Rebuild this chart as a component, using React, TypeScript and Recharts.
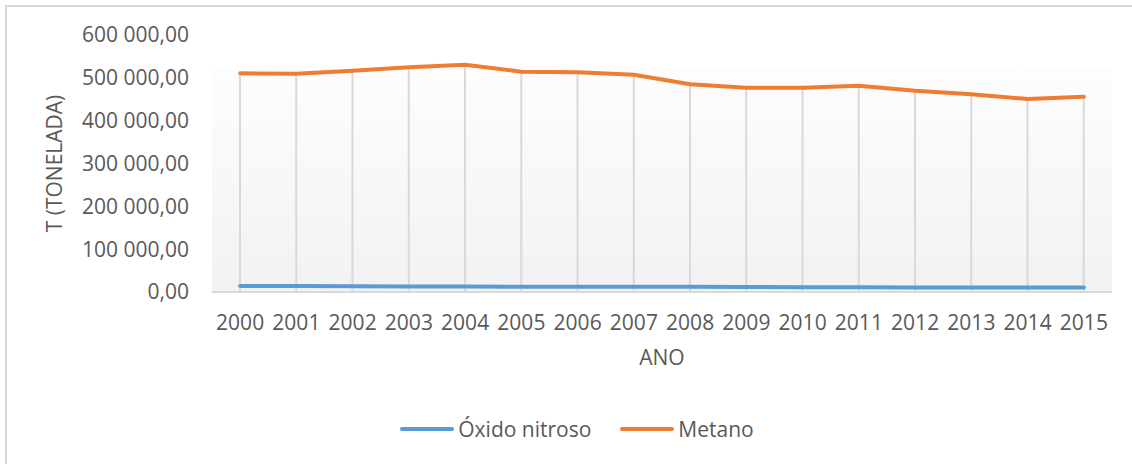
import {
  ComposedChart,
  Line,
  Bar,
  XAxis,
  YAxis,
  CartesianGrid,
  Legend,
} from "recharts";

const years = [
  "2000", "2001", "2002", "2003", "2004", "2005", "2006", "2007",
  "2008", "2009", "2010", "2011", "2012", "2013", "2014", "2015",
];

const metano = [
  510500, 509600, 516600, 524500, 530600, 514300, 512900, 507200,
  484800, 476900, 476900, 481500, 469800, 461400, 450400, 455800,
];

const oxidoNitroso = [
  14000, 13800, 13600, 12800, 12600, 12500, 12400, 12300,
  12200, 11500, 11300, 10800, 10700, 10600, 10400, 10300,
];

const yTicks = [0, 100000, 200000, 300000, 400000, 500000, 600000];

const seriesInfo = [
  { key: "oxido", name: "Óxido nitroso", color: "#5B9BD5" },
  { key: "metano", name: "Metano", color: "#ED7D31" },
];

const data = years.map((year, i) => ({
  year,
  metano: metano[i],
  oxido: oxidoNitroso[i],
}));

const FONT = "'Open Sans', sans-serif";
const TEXT = "#595959";

// 600000 -> "600 000,00"
function formatTon(v: number) {
  const int = Math.round(v)
    .toString()
    .replace(/\B(?=(\d{3})+(?!\d))/g, "\u00a0");
  return `${int},00`;
}

function YTitle({ viewBox }: { viewBox?: { x: number; y: number; height: number } }) {
  if (!viewBox) return null;
  const cx = viewBox.x + 62;
  const cy = viewBox.y + viewBox.height / 2;
  return (
    <text
      x={cx}
      y={cy}
      transform={`rotate(-90, ${cx}, ${cy})`}
      textAnchor="middle"
      fill={TEXT}
      fontSize={21}
      fontFamily={FONT}
    >
      T (TONELADA)
    </text>
  );
}

/* ── Legend with plain line samples ─────────────────────────── */
function LineLegend() {
  return (
    <div
      style={{
        display: "flex",
        justifyContent: "center",
        alignItems: "center",
        height: 40,
        fontFamily: FONT,
        fontSize: 21,
        color: TEXT,
      }}
    >
      {seriesInfo.map((s, i) => (
        <div
          key={s.key}
          style={{
            display: "flex",
            alignItems: "center",
            marginRight: i < seriesInfo.length - 1 ? 29 : 0,
          }}
        >
          <svg width={54} height={8}>
            <line
              x1={2}
              y1={4}
              x2={52}
              y2={4}
              stroke={s.color}
              strokeWidth={4}
              strokeLinecap="round"
            />
          </svg>
          <span style={{ marginLeft: 4, lineHeight: "28px" }}>{s.name}</span>
        </div>
      ))}
    </div>
  );
}

export default function App() {
  return (
    <div
      style={{
        position: "fixed",
        left: 0,
        top: 0,
        width: 1132,
        height: 464,
        overflow: "hidden",
        background: "#ffffff",
        fontFamily: FONT,
      }}
    >
      {/* chart border, runs off the right and bottom edges */}
      <div
        style={{
          position: "absolute",
          left: 5,
          top: 5,
          width: 1160,
          height: 500,
          border: "2px solid #d9d9d9",
          boxSizing: "border-box",
        }}
      />
      <div style={{ position: "absolute", left: 0, top: 0 }}>
        <ComposedChart
          width={1132}
          height={464}
          data={data}
          margin={{ top: 35, right: 20, bottom: 15, left: 0 }}
        >
          <defs>
            <linearGradient id="plotBg" x1="0" y1="0" x2="0" y2="1">
              <stop offset="0%" stopColor="#ffffff" />
              <stop offset="13%" stopColor="#ffffff" />
              <stop offset="13.5%" stopColor="#fdfdfd" />
              <stop offset="100%" stopColor="#f2f2f2" />
            </linearGradient>
          </defs>

          <CartesianGrid
            horizontal={false}
            vertical={false}
            fill="url(#plotBg)"
          />

          <XAxis
            dataKey="year"
            height={117}
            tickLine={false}
            axisLine={{ stroke: "#d9d9d9", strokeWidth: 2 }}
            tick={{ fill: TEXT, fontSize: 21, fontFamily: FONT }}
            tickMargin={17}
            interval={0}
            label={{
              value: "ANO",
              position: "insideTop",
              offset: 58,
              fill: TEXT,
              fontSize: 21,
              fontFamily: FONT,
            }}
          />

          <YAxis
            width={212}
            domain={[0, 600000]}
            ticks={yTicks}
            tickFormatter={formatTon}
            tickLine={false}
            axisLine={false}
            tickMargin={17}
            tick={{ fill: TEXT, fontSize: 21, fontFamily: FONT }}
            label={<YTitle />}
          />

          <Legend
            verticalAlign="bottom"
            content={<LineLegend />}
            wrapperStyle={{ left: 0, width: 1154, bottom: 15 }}
          />

          {/* drop lines */}
          <Bar
            dataKey="metano"
            barSize={2}
            fill="#d9d9d9"
            legendType="none"
            isAnimationActive={false}
          />

          <Line
            type="linear"
            dataKey="oxido"
            name="Óxido nitroso"
            stroke="#5B9BD5"
            strokeWidth={4}
            strokeLinecap="round"
            dot={false}
            activeDot={false}
            isAnimationActive={false}
          />
          <Line
            type="linear"
            dataKey="metano"
            name="Metano"
            stroke="#ED7D31"
            strokeWidth={4}
            strokeLinecap="round"
            dot={false}
            activeDot={false}
            isAnimationActive={false}
          />
        </ComposedChart>
      </div>
    </div>
  );
}
